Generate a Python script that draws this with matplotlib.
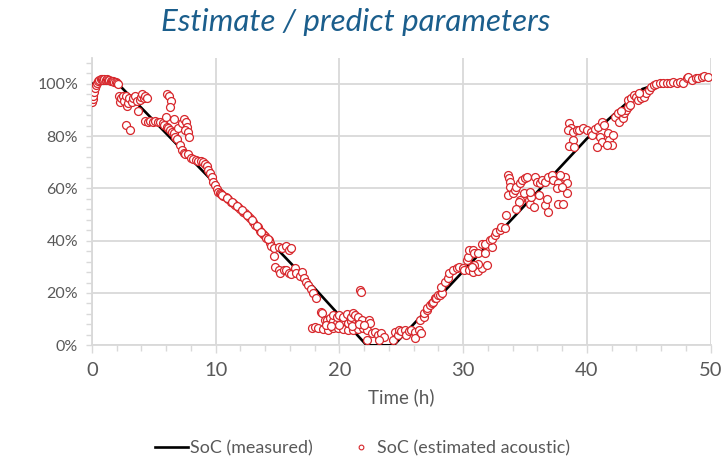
import matplotlib
matplotlib.use("Agg")
import matplotlib.pyplot as plt
from matplotlib.ticker import MultipleLocator, FuncFormatter
from matplotlib.lines import Line2D

# ---- data ----
meas_time = [0, 2.1, 10, 18, 22.2, 24.4, 34, 40, 44.5, 46, 50]
meas_soc = [100, 100, 61.5, 21.8, 0, 0, 48.5, 79, 98, 100.3, 102.5]

est_time = [
    0.0, 0.05, 0.1, 0.18, 0.24, 0.32, 0.4, 0.5, 0.6, 0.7, 0.8, 0.9, 1.0, 1.1, 1.2, 1.3, 1.4, 1.5, 1.6, 1.7, 1.8, 1.9, 2.0, 2.1,
    2.15, 2.25, 2.35, 2.5, 2.6, 2.75, 2.85, 2.95, 3.0, 3.2, 3.35, 3.45, 3.6, 3.75, 3.85, 3.95, 4.05, 4.2, 4.3, 4.45, 2.72, 3.07,
    4.3, 4.5, 4.7, 4.9, 5.1, 5.3, 5.5, 5.7, 5.85, 6.05, 6.15, 6.3, 6.5, 6.65, 6.75, 6.9, 7.1, 7.25, 7.4, 7.55,
    6.05, 6.22, 6.39, 6.33, 5.96, 6.66, 6.98, 7.25, 7.46, 7.57, 7.66, 7.52, 7.73, 7.84,
    7.8, 8.0, 8.2, 8.4, 8.6, 8.8, 9.0, 9.13, 9.27, 9.4, 9.54, 9.67, 9.81, 9.94, 10.08, 10.21,
    10.35, 10.4, 10.6, 10.8, 11.0, 11.2, 11.4, 11.6, 11.8, 12.0, 12.2, 12.4, 12.6, 12.8, 13.0, 13.2, 13.4, 13.6, 13.8, 14.0,
    14.1, 14.3, 14.35, 14.45, 14.7, 14.7, 15.1, 15.4, 15.7, 15.9, 16.1, 14.8, 15.1, 15.2, 15.5, 15.7, 15.9, 16.1, 16.4, 16.5,
    16.8, 17.0, 17.1, 17.3, 17.5, 17.7, 17.9, 18.1,
    10.5, 10.9, 11.3, 11.7, 12.1, 12.5, 12.9, 13.3, 13.7, 14.2,
    17.8, 18.0, 18.3, 18.7, 19.1, 19.5, 19.9, 20.3, 20.7, 21.1, 21.5, 21.9, 22.2, 22.6, 22.9, 23.1, 23.4, 23.6, 22.2, 23.2, 24.3,
    18.5, 18.6, 18.8, 19.0, 19.2, 19.5, 19.8, 20.1, 20.4, 20.7, 20.9, 19.5, 19.8, 20.0, 20.3, 20.6, 20.9, 21.1, 21.3, 21.5,
    21.8, 22.4, 22.5, 21.0, 21.6, 22.0, 18.9, 19.3, 20.0,
    21.7, 21.75,
    24.5, 24.7, 24.8, 25.0, 25.3, 25.4, 25.6, 25.8, 26.1, 26.1, 26.4, 26.6, 26.5, 26.8, 26.8, 27.1, 27.1, 27.3, 27.5, 27.6,
    27.7, 27.8, 28.0, 28.1, 28.3,
    28.2, 28.5, 28.8, 28.9, 29.2, 29.5, 29.7, 30.0, 30.1, 30.5, 30.8, 31.2, 31.5, 31.9, 31.2, 30.9, 30.7, 30.3, 30.4, 30.5,
    30.8, 30.9, 31.2, 31.5, 31.8, 31.8, 32.3, 32.2, 32.3, 32.6, 32.7, 33.0, 33.1, 33.4, 33.5,
    33.6, 33.7, 33.8, 33.8, 33.6, 34.0, 34.2, 34.3, 34.6, 34.8, 35.0, 35.2, 34.6, 34.5, 34.9, 34.3, 35.3, 35.4, 35.7, 35.5,
    35.8, 36.0, 36.2, 36.4, 36.6, 36.9, 37.2, 37.3, 37.7, 37.6, 36.6, 36.9, 36.8, 37.7, 38.1, 38.2, 38.4, 38.4, 38.0, 37.8,
    36.1, 35.4,
    38.6, 38.7, 38.5, 38.9, 38.9, 38.6, 39.0, 39.2, 39.4, 39.7, 40.0, 40.3, 40.4, 40.7, 40.9, 41.2, 41.4, 41.1, 41.2, 40.8,
    41.7, 41.8, 42.0, 42.1, 41.6,
    42.3, 42.5, 42.6, 42.9, 43.0, 43.2, 43.3, 43.3, 43.6, 43.8, 44.0, 44.1, 44.4, 44.6, 44.8, 45.0, 45.2, 45.4, 45.6, 45.9,
    46.2, 46.5, 46.7, 47.0, 47.3, 47.5, 47.8, 48.1, 48.2, 48.5, 48.8, 49.0, 49.3, 49.5, 49.8, 43.5, 42.8, 44.2,
]
est_soc = [
    93.0, 94.2, 95.5, 97.0, 98.3, 99.5, 100.3, 101.2, 101.6, 101.9, 101.8, 101.5, 101.9, 101.6, 101.7, 101.3, 101.6, 101.2, 101.0, 100.9, 100.5, 100.7, 100.3, 99.9,
    95.5, 93.0, 94.5, 95.2, 93.3, 95.5, 91.5, 92.8, 94.5, 93.0, 94.6, 95.2, 93.5, 89.4, 93.8, 95.0, 96.0, 94.4, 95.3, 94.5, 84.2, 82.3,
    85.9, 85.5, 85.9, 85.5, 85.9, 85.5, 85.3, 84.9, 84.2, 83.6, 83.0, 82.3, 81.7, 81.1, 79.8, 78.9, 76.6, 74.6, 73.7, 73.3,
    95.9, 95.2, 93.4, 91.1, 87.4, 86.5, 83.0, 85.0, 86.5, 85.5, 83.6, 82.3, 81.7, 79.8,
    73.0, 71.8, 71.2, 70.7, 70.6, 70.4, 70.2, 69.4, 68.5, 67.2, 65.9, 64.2, 62.6, 61.3, 59.8, 58.8,
    58.4, 57.9, 57.1, 56.6, 55.8, 54.9, 54.3, 53.7, 53.0, 52.0, 51.1, 50.5, 49.4, 48.6, 47.3, 46.0, 45.1, 43.8, 42.6, 41.8,
    40.9, 40.3, 39.0, 38.0, 37.1, 34.2, 37.4, 37.1, 38.0, 36.4, 37.1, 30.1, 28.8, 27.5, 28.8, 28.8, 27.8, 27.3, 29.4, 27.5,
    26.4, 28.1, 25.6, 24.3, 23.0, 21.4, 19.9, 17.9,
    57.5, 56.2, 54.6, 53.3, 51.6, 50.0, 47.9, 45.5, 43.2, 40.6,
    6.5, 6.9, 6.5, 6.2, 5.9, 6.5, 6.5, 6.2, 5.9, 5.9, 6.2, 6.5, 5.9, 4.6, 5.2, 4.0, 4.6, 3.3, 2.1, 2.1, 2.1,
    12.8, 12.5, 9.7, 9.7, 10.3, 9.1, 8.4, 9.7, 9.1, 8.4, 9.1, 11.6, 11.0, 11.6, 11.0, 12.0, 11.0, 12.2, 11.6, 11.0,
    9.7, 9.7, 8.4, 7.5, 8.0, 7.8, 7.8, 7.5, 7.9,
    21.0, 20.4,
    5.2, 4.0, 5.9, 5.6, 5.9, 4.0, 5.6, 5.9, 5.2, 2.7, 5.9, 4.6, 9.7, 11.0, 12.2, 13.5, 14.1, 15.4, 16.1, 16.7,
    18.0, 18.0, 19.3, 19.2, 19.9,
    22.3, 24.3, 25.6, 27.5, 28.7, 29.4, 30.0, 29.4, 28.7, 28.7, 28.1, 28.5, 29.4, 30.6, 31.2, 30.6, 30.0, 32.5, 33.8, 36.4,
    36.4, 35.1, 35.1, 38.9, 38.9, 35.1, 37.6, 40.2, 40.8, 42.1, 43.4, 44.1, 45.3, 44.7, 49.7,
    65.1, 63.8, 62.6, 60.6, 57.4, 58.1, 59.4, 60.6, 61.9, 63.2, 63.8, 64.5, 55.5, 54.9, 58.1, 52.3, 55.5, 54.2, 52.9, 56.8,
    64.5, 62.6, 61.9, 63.2, 62.6, 64.5, 65.1, 63.2, 61.9, 60.0, 53.6, 51.0, 56.1, 54.2, 54.2, 64.5, 61.9, 58.4, 60.6, 65.1,
    57.4, 58.7,
    84.9, 83.0, 82.3, 81.7, 78.5, 76.2, 75.7, 82.3, 82.3, 83.0, 82.3, 81.7, 80.4, 82.6, 83.6, 85.5, 84.2, 79.8, 77.8, 75.7,
    81.1, 78.5, 76.6, 80.4, 76.6,
    87.4, 88.7, 85.5, 86.8, 88.7, 90.0, 91.3, 93.8, 94.4, 95.7, 95.1, 93.8, 94.4, 95.1, 96.3, 97.6, 98.9, 99.5, 99.9, 100.2,
    100.4, 100.4, 100.4, 100.8, 100.4, 100.8, 100.4, 102.1, 102.7, 101.4, 102.1, 102.1, 102.7, 103.0, 102.7, 92.0, 89.5, 96.5,
]
assert len(est_time) == len(est_soc)

title = "Estimate / predict parameters"
x_label = "Time (h)"
legend_labels = ["SoC (measured)", "SoC (estimated acoustic)"]

# ---- style ----
FONT = "Lato"
grey_txt = "#595959"
grid_c = "#D9D9D9"
red = "#D7262B"

fig = plt.figure(figsize=(7.22, 4.61), dpi=100)
ax = fig.add_axes([92 / 722, 1 - 345.3 / 461, 618.5 / 722, 287.7 / 461])

ax.plot(meas_time, meas_soc, color="black", lw=1.9, zorder=3, solid_capstyle="butt")
ax.plot(est_time, est_soc, linestyle="none", marker="o", ms=5.7, mfc="white",
        mec=red, mew=0.9, zorder=4)

ax.set_xlim(0, 50)
ax.set_ylim(0, 110)
ax.xaxis.set_major_locator(MultipleLocator(10))
ax.xaxis.set_minor_locator(MultipleLocator(2))
ax.yaxis.set_major_locator(MultipleLocator(20))
ax.yaxis.set_minor_locator(MultipleLocator(4))
ax.yaxis.set_major_formatter(FuncFormatter(lambda v, p: f"{v:.0f}%" if v <= 100 else ""))

ax.grid(True, which="major", color=grid_c, lw=1.3, zorder=0)
for s in ["top", "right"]:
    ax.spines[s].set_visible(False)
for s in ["left", "bottom"]:
    ax.spines[s].set_color(grid_c)
    ax.spines[s].set_linewidth(1.3)
ax.tick_params(which="both", color=grid_c, width=1.0)
ax.tick_params(axis="x", which="major", length=6, direction="out", pad=6)
ax.tick_params(axis="x", which="minor", length=4, direction="out")
ax.tick_params(axis="y", which="major", length=4, direction="out", pad=6)
ax.tick_params(axis="y", which="minor", length=4, direction="out")
for lab in ax.get_yticklabels():
    lab.set_fontfamily(FONT)
    lab.set_fontsize(11.5)
    lab.set_color(grey_txt)
for lab in ax.get_xticklabels():
    lab.set_fontfamily(FONT)
    lab.set_fontsize(14.5)
    lab.set_color(grey_txt)

ax.set_xlabel(x_label, fontfamily=FONT, fontsize=13.5, color=grey_txt, labelpad=7)

fig.text(0.492, 0.953, title, ha="center", va="center", fontfamily=FONT,
         fontstyle="italic", fontsize=22.5, color="#1B5E8C")

h1 = Line2D([], [], color="black", lw=1.9)
h2 = Line2D([], [], linestyle="none", marker="o", ms=3.4, mfc="white", mec=red, mew=0.8)
leg1 = fig.legend([h1], [legend_labels[0]], loc="center", bbox_to_anchor=(0.324, 0.028),
                  frameon=False, handlelength=1.85, handletextpad=0.1,
                  prop={"family": FONT, "size": 12.9})
leg2 = fig.legend([h2], [legend_labels[1]], loc="center", bbox_to_anchor=(0.642, 0.028),
                  frameon=False, handlelength=0.5, handletextpad=0.64,
                  prop={"family": FONT, "size": 12.9})
for lg in (leg1, leg2):
    for t in lg.get_texts():
        t.set_color(grey_txt)

fig.savefig("out.png", dpi=100)
